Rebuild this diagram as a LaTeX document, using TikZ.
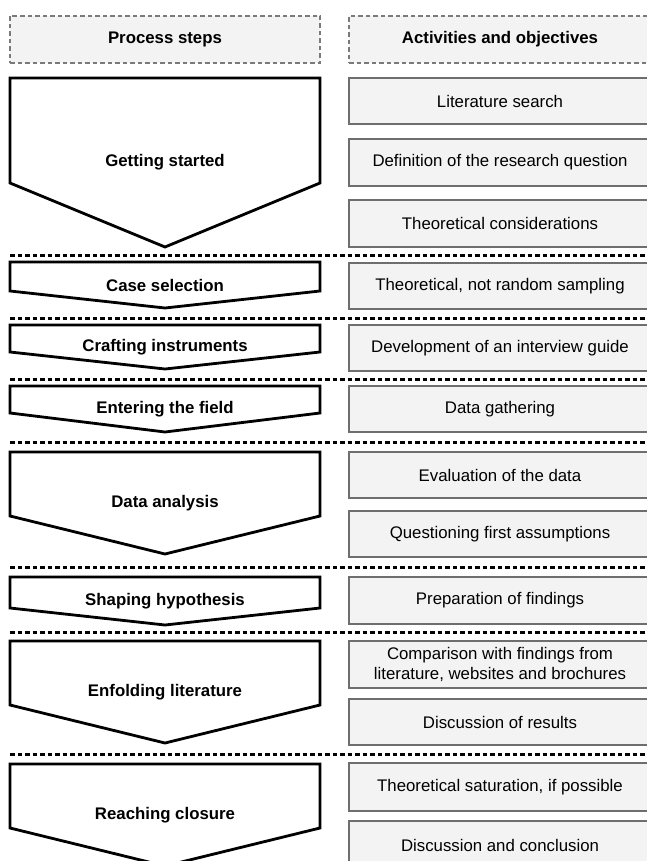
\documentclass[tikz,border=0pt]{standalone}
\usepackage{fontspec}
\setmainfont{Liberation Sans}
\begin{document}
\definecolor{boxfill}{HTML}{F3F3F3}
\definecolor{boxline}{HTML}{6E6E6E}
\definecolor{headline}{HTML}{7A7A7A}
\begin{tikzpicture}[x=1pt,y=-1pt,
  every node/.style={inner sep=0pt, outer sep=0pt},
  txt/.style={font=\fontsize{16.8}{20}\selectfont, align=center},
  headbox/.style={txt, draw=headline, fill=boxfill, line width=2pt,
    dash pattern=on 4.5pt off 3pt, minimum height=47pt, font=\fontsize{16.8}{20}\selectfont\bfseries},
  actbox/.style={txt, draw=boxline, fill=boxfill, line width=2.3pt, minimum width=302pt},
  stepline/.style={draw=black, fill=white, line width=2.8pt, line join=miter},
  steptext/.style={txt, font=\fontsize{16.8}{20}\selectfont\bfseries},
  divider/.style={draw=black, line width=3pt, dash pattern=on 4.5pt off 3pt}
]
\useasboundingbox (0,0) rectangle (647,861);
\clip (0,0) rectangle (647,861);

% column headers
\node[headbox, minimum width=310pt] (hsteps) at (165,39.5) {Process steps};
\node[headbox, minimum width=302pt] (hacts) at (500,39.5) {Activities and objectives};

% a process step: name, top, side bottom, tip, label
\newcommand{\stepshape}[5]{%
  \draw[stepline] (10,#2) -- (320,#2) -- (320,#3) -- (165,#4) -- (10,#3) -- cycle;
  \node[steptext] (#1) at (165,{(#2+#4)/2}) {#5};}
% an activity box: name, top, bottom, label
\newcommand{\actshape}[4]{%
  \node[actbox, minimum height={#3-#2}] (#1) at (500,{(#2+#3)/2}) {#4};}
% a dashed divider between sections
\newcommand{\divider}[2]{%
  \coordinate (#1a) at (10,#2); \coordinate (#1b) at (660,#2);
  \draw[divider] (#1a) -- (#1b);}

% Getting started
\stepshape{s1}{78}{183}{247}{Getting started}
\actshape{a1}{78}{124}{Literature search}
\actshape{a2}{139}{186}{Definition of the research question}
\actshape{a3}{200}{247}{Theoretical considerations}
\divider{d1}{255}

% Case selection
\stepshape{s2}{262}{291}{308}{Case selection}
\actshape{a4}{263}{309}{Theoretical, not random sampling}
\divider{d2}{318}

% Crafting instruments
\stepshape{s3}{325}{352}{369}{Crafting instruments}
\actshape{a5}{325}{371}{Development of an interview guide}
\divider{d3}{379}

% Entering the field
\stepshape{s4}{386}{413}{432}{Entering the field}
\actshape{a6}{386}{432}{Data gathering}
\divider{d4}{442}

% Data analysis
\stepshape{s5}{452}{516}{554}{Data analysis}
\actshape{a7}{452}{498}{Evaluation of the data}
\actshape{a8}{511}{557}{Questioning first assumptions}
\divider{d5}{567}

% Shaping hypothesis
\stepshape{s6}{577}{608}{625}{Shaping hypothesis}
\actshape{a9}{577}{624}{Preparation of findings}
\divider{d6}{632}

% Enfolding literature
\stepshape{s7}{641}{705}{743}{Enfolding literature}
\actshape{a10}{641}{688}{Comparison with findings from\\literature, websites and brochures}
\actshape{a11}{699}{745}{Discussion of results}
\divider{d7}{754}

% Reaching closure
\stepshape{s8}{764}{828}{866}{Reaching closure}
\actshape{a12}{763}{811}{Theoretical saturation, if possible}
\actshape{a13}{821}{870}{Discussion and conclusion}
\end{tikzpicture}
\end{document}
